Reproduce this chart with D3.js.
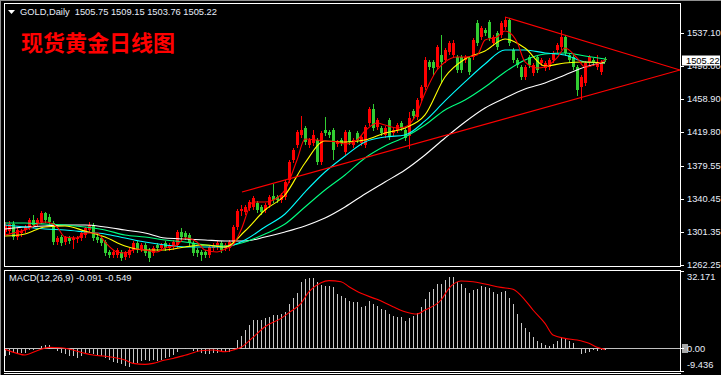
<!DOCTYPE html>
<html><head><meta charset="utf-8">
<script src="https://cdn.jsdelivr.net/npm/d3@7"></script>
<style>html,body{margin:0;padding:0;background:#000;overflow:hidden}</style>
</head><body><svg id="c" width="721" height="375"></svg>
<script>
// ---------- DATA ----------
const symbolTitle = "GOLD,Daily";
const lastBar = [1505.75, 1509.15, 1503.76, 1505.22];
const chartTitle = "现货黄金日线图";
const macdTitle = "MACD(12,26,9) -0.091 -0.549";

const openP = [1301.4,1302.5,1310.8,1295.4,1300.2,1303.7,1306.1,1315.6,1312.0,1313.2,
1323.9,1319.1,1312.0,1289.5,1295.4,1289.5,1294.2,1291.9,1293.1,1294.2,
1297.8,1303.7,1309.6,1295.4,1294.2,1289.5,1277.7,1274.1,1274.1,1277.7,
1271.7,1274.1,1280.0,1288.3,1281.2,1286.0,1280.0,1276.5,1286.0,1282.4,
1288.3,1282.4,1283.6,1286.0,1301.4,1300.2,1297.8,1288.3,1280.0,1277.7,
1277.7,1274.1,1282.4,1283.6,1288.3,1282.4,1282.4,1289.5,1307.3,1326.2,
1325.0,1329.8,1331.0,1335.7,1331.0,1327.4,1333.3,1344.0,1342.8,1339.3,
1342.8,1363.0,1386.7,1404.4,1416.3,1424.6,1404.4,1406.8,1410.3,1384.3,
1422.2,1419.8,1422.2,1405.6,1410.3,1396.1,1419.8,1404.4,1418.6,1406.8,
1404.4,1430.5,1447.1,1425.7,1424.6,1416.3,1434.0,1418.6,1422.2,1430.5,
1422.2,1415.1,1444.7,1437.6,1460.1,1473.1,1502.8,1502.8,1496.8,1511.0,
1505.1,1514.6,1511.0,1508.7,1508.7,1505.1,1507.5,1508.7,1549.0,1532.4,
1540.7,1550.1,1525.3,1537.1,1534.7,1544.2,1552.5,1517.0,1505.1,1496.8,
1485.0,1508.7,1489.7,1508.7,1501.6,1495.6,1496.8,1505.1,1517.0,1520.5,
1532.4,1511.0,1508.7,1496.8,1473.1,1477.9,1501.6,1505.1,1496.8,1490.9,
1505.75];
const highP = [1313.2,1314.4,1314.4,1306.1,1304.9,1309.6,1317.9,1321.5,1317.9,1326.2,
1325.0,1322.7,1314.4,1296.6,1297.8,1296.6,1296.6,1296.6,1296.6,1302.5,
1307.3,1313.2,1312.0,1297.8,1296.6,1291.9,1280.0,1280.0,1282.4,1280.0,
1278.8,1282.4,1290.7,1290.7,1288.3,1288.3,1282.4,1284.8,1288.3,1288.3,
1290.7,1288.3,1291.9,1303.7,1306.1,1302.5,1300.2,1290.7,1282.4,1280.0,
1280.0,1286.0,1288.3,1290.7,1290.7,1288.3,1291.9,1309.6,1328.6,1333.3,
1333.3,1339.3,1344.0,1338.1,1333.3,1335.7,1345.2,1358.2,1345.2,1347.6,
1363.0,1386.7,1400.9,1422.2,1438.8,1426.9,1412.7,1422.2,1412.7,1421.0,
1437.6,1422.2,1424.6,1410.3,1412.7,1422.2,1422.2,1412.7,1421.0,1416.3,
1428.1,1449.4,1453.0,1436.4,1426.9,1426.9,1436.4,1424.6,1430.5,1432.9,
1424.6,1443.5,1447.1,1460.1,1475.5,1508.7,1505.1,1505.1,1522.9,1534.7,
1519.3,1527.6,1528.8,1511.0,1511.0,1511.0,1509.9,1531.2,1552.5,1545.4,
1543.0,1552.5,1534.7,1539.5,1551.3,1556.1,1554.9,1519.3,1507.5,1499.2,
1499.2,1511.0,1501.6,1511.0,1507.5,1503.9,1507.5,1515.8,1525.3,1540.7,
1534.7,1513.4,1511.0,1499.2,1487.4,1503.9,1511.0,1507.5,1511.0,1505.1,
1509.15];
const lowP = [1299.0,1300.2,1293.1,1293.1,1296.6,1301.4,1304.9,1307.3,1309.6,1312.0,
1313.2,1310.8,1287.1,1287.1,1286.0,1287.1,1288.3,1282.4,1289.5,1291.9,
1295.4,1302.5,1291.9,1289.5,1286.0,1274.1,1271.7,1271.7,1271.7,1268.2,
1269.4,1271.7,1277.7,1277.7,1278.8,1274.1,1267.0,1274.1,1280.0,1280.0,
1280.0,1280.0,1281.2,1283.6,1293.1,1293.1,1286.0,1274.1,1272.9,1268.2,
1271.7,1271.7,1280.0,1281.2,1277.7,1280.0,1280.0,1287.1,1304.9,1321.5,
1322.7,1327.4,1328.6,1325.0,1322.7,1325.0,1331.0,1336.9,1336.9,1336.9,
1340.4,1360.6,1384.3,1402.1,1413.9,1405.6,1402.1,1404.4,1381.9,1381.9,
1416.3,1413.9,1387.8,1403.2,1404.4,1393.8,1405.6,1402.1,1408.0,1404.4,
1402.1,1428.1,1422.2,1423.4,1416.3,1413.9,1411.5,1416.3,1419.8,1422.2,
1410.3,1400.9,1436.4,1435.2,1457.7,1470.8,1494.5,1487.4,1494.5,1479.1,
1502.8,1512.2,1508.7,1490.9,1490.9,1502.8,1488.5,1506.3,1522.9,1530.0,
1534.7,1528.8,1522.9,1518.2,1532.4,1541.8,1522.9,1502.8,1496.8,1482.6,
1482.6,1496.8,1487.4,1490.9,1499.2,1493.3,1494.5,1502.8,1514.6,1518.2,
1511.0,1502.8,1494.5,1463.7,1458.9,1475.5,1499.2,1499.2,1494.5,1488.5,
1503.76];
const closeP = [1309.6,1310.8,1295.4,1303.7,1302.5,1307.3,1315.6,1309.6,1315.6,1323.9,
1315.6,1313.2,1289.5,1294.2,1288.3,1295.4,1290.7,1294.2,1294.2,1300.2,
1306.1,1309.6,1294.2,1291.9,1288.3,1276.5,1274.1,1277.7,1280.0,1270.6,
1277.7,1280.0,1288.3,1280.0,1286.0,1276.5,1270.6,1282.4,1282.4,1286.0,
1282.4,1286.0,1289.5,1301.4,1295.4,1295.4,1288.3,1276.5,1276.5,1274.1,
1274.1,1283.6,1286.0,1288.3,1280.0,1286.0,1289.5,1307.3,1326.2,1328.6,
1331.0,1336.9,1341.6,1327.4,1325.0,1333.3,1342.8,1339.3,1339.3,1345.2,
1360.6,1384.3,1398.5,1419.8,1422.2,1408.0,1410.3,1416.3,1384.3,1418.6,
1418.6,1416.3,1398.5,1408.0,1406.8,1419.8,1408.0,1410.3,1410.3,1413.9,
1425.7,1447.1,1424.6,1434.0,1418.6,1424.6,1413.9,1422.2,1428.1,1424.6,
1412.7,1436.4,1438.8,1457.7,1473.1,1505.1,1496.8,1495.6,1520.5,1502.8,
1517.0,1525.3,1525.3,1493.3,1493.3,1508.7,1490.9,1528.8,1525.3,1543.0,
1537.1,1531.2,1532.4,1520.5,1549.0,1552.5,1525.3,1505.1,1499.2,1485.0,
1496.8,1499.2,1499.2,1493.3,1505.1,1501.6,1505.1,1513.4,1522.9,1532.4,
1513.4,1505.1,1496.8,1469.6,1485.0,1501.6,1508.7,1501.6,1502.8,1502.8,
1505.22];

// moving averages read at every 5th bar
const maIndex = [0,5,10,15,20,25,30,35,40,45,50,55,60,65,70,75,80,85,90,95,100,105,110,115,120,125,130,135,140,145,150];
const maWhite = [1304.9,1307.3,1308.5,1309.6,1309.6,1307.3,1303.7,1300.2,1294.2,1293.1,1291.9,1290.7,1290.7,1295.4,1301.4,1308.5,1317.9,1331.0,1346.4,1360.6,1374.8,1392.6,1412.7,1431.7,1448.3,1460.1,1470.8,1477.9,1487.4,1496.8,1502.8];
const maGreen = [1312.0,1312.0,1310.8,1309.6,1307.3,1303.7,1297.8,1295.4,1291.9,1289.5,1286.0,1284.8,1289.5,1299.0,1310.8,1331.0,1351.1,1368.9,1389.0,1403.2,1413.9,1428.1,1445.9,1457.7,1473.1,1490.9,1505.1,1512.2,1513.4,1509.9,1506.3];
const maCyan = [1309.6,1307.3,1304.9,1303.7,1301.4,1299.0,1294.2,1289.5,1286.0,1283.6,1283.6,1283.6,1291.9,1307.3,1322.7,1348.7,1372.4,1391.4,1408.0,1413.9,1416.3,1432.9,1456.6,1479.1,1500.4,1517.0,1517.0,1513.4,1511.0,1502.8,1501.6];
const maYellow = [1296.6,1299.0,1307.3,1308.5,1302.5,1295.4,1284.8,1280.0,1280.0,1283.6,1286.0,1283.6,1302.5,1327.4,1345.2,1383.1,1409.2,1408.0,1410.3,1418.6,1424.6,1440.0,1485.0,1506.3,1515.8,1530.0,1519.3,1498.0,1501.6,1502.8,1501.6];
const maRedIndex = [0,5,10,13,15,18,20,23,25,28,30,33,35,38,40,43,45,48,50,53,55,57,59,62,65,68,70,73,75,78,80,83,85,88,90,93,95,98,100,103,105,108,110,113,115,118,120,123,125,128,130,133,135,138,140,143,145,148,150];
const maRed = [1297.8,1303.7,1313.2,1307.3,1295.4,1294.2,1300.2,1300.2,1289.5,1277.7,1276.5,1281.2,1280.0,1277.7,1282.4,1286.0,1294.2,1289.5,1280.0,1277.7,1281.2,1286.0,1303.7,1336.9,1336.9,1341.6,1351.1,1386.7,1411.5,1410.3,1409.2,1408.0,1405.6,1410.3,1421.0,1430.5,1428.1,1424.6,1425.7,1442.3,1466.0,1493.3,1502.8,1508.7,1508.7,1511.0,1528.8,1532.4,1539.5,1526.4,1502.8,1495.6,1496.8,1507.5,1519.3,1507.5,1496.8,1500.4,1505.1];

// triangle trend lines [barIndex, price]
const trendUpper = [[125,1556.1],[168.75,1493.3]];
const trendLower = [[59.25,1348.7],[168.75,1493.3]];

// MACD main (histogram) per bar
const macdMain = [-2.8,-2.4,-1.4,-1.8,-1.4,-1.4,-0.4,-0.3,0.2,1.4,
1.8,1.8,0.1,-0.7,-1.4,-2.1,-2.8,-2.8,-3.5,-2.8,
-1.8,-1.4,-1.8,-2.4,-2.8,-3.8,-4.6,-5.2,-5.6,-6.2,
-6.9,-7.4,-6.2,-5.6,-4.9,-4.6,-4.9,-4.6,-4.9,-4.6,
-3.8,-3.2,-2.4,-1.0,0.05,0.4,0.05,-0.7,-1.0,-1.4,
-2.1,-1.8,-1.4,-1.4,-0.7,-1.0,-1.0,0.4,3.7,5.5,
7.9,10.1,12.0,12.0,12.0,12.9,13.4,14.3,14.3,14.6,
15.6,18.7,21.2,23.6,28.1,29.1,29.5,29.5,28.1,26.8,
26.3,26.3,25.9,23.1,22.2,21.2,20.1,19.8,19.8,17.6,
18.0,20.1,19.0,18.0,16.6,16.2,14.5,13.9,13.4,13.4,
11.8,12.9,13.9,15.2,17.6,20.8,24.0,24.9,27.0,27.3,
28.7,30.1,30.1,28.1,27.3,25.6,23.6,24.5,25.3,26.3,
25.9,25.6,24.0,22.9,24.0,24.3,21.5,18.7,14.8,11.1,
9.0,7.3,5.1,3.5,2.8,1.8,1.4,2.1,3.5,5.1,
4.6,3.5,2.8,0.1,-1.8,-1.4,-1.0,-0.2,-0.7,-0.1,
-0.091];
const signalIndex = [0,3,5,8,11,14,17,20,22,26,30,32,35,37,40,42,45,49,52,55,57,59,62,65,69,71,74,76,79,81,84,86,89,93,97,100,103,105,109,111,114,117,120,124,127,130,132,135,137,140,143,146,148,150];
const signalVal = [-0.43,-2.09,-2.79,-1.0,0.40,0.26,-0.71,-2.09,-2.79,-3.48,-4.87,-6.26,-6.67,-6.26,-4.87,-4.2,-2.9,-0.99,-0.71,-1.40,-0.71,0.40,4.56,9.0,12.47,14.83,18.71,23.57,27.31,28.15,27.73,25.65,22.87,20.37,17.32,15.24,14.27,15.94,20.1,24.95,28.0,27.73,26.76,25.37,24.54,20.1,15.94,10.39,5.53,4.15,3.45,2.07,0.40,-0.549];

// axis ticks
const priceTicks = [1537.10,1498.00,1458.90,1419.80,1379.55,1340.45,1301.35,1262.25];
const macdTicks = [32.171,0,-9.436];
const macdTickLabels = ["32.171","0.00","-9.436"];

// ---------- DRAW ----------
const svg = d3.select('#c');
const FONT = "'Liberation Sans', Arial, sans-serif";
svg.append('rect').attr('width',721).attr('height',375).attr('fill','#000');

const x = d3.scaleLinear().domain([0,150]).range([5,605]);
const y = d3.scaleLinear().domain([1262.25,1537.10]).range([265,33]);
const ym = d3.scaleLinear().domain([-9.436,32.171]).range([371,271]);

const lp = lastBar[3];
const boxY = Math.round(y(lp)) - 4.5;

const defs = svg.append('defs');
defs.append('clipPath').attr('id','clipMain').append('rect').attr('x',5).attr('y',4).attr('width',675).attr('height',262);
defs.append('clipPath').attr('id','clipMacd').append('rect').attr('x',5).attr('y',271).attr('width',675).attr('height',100);
// area of the price scale not covered by the last-price box
defs.append('clipPath').attr('id','clipAxis').append('path')
  .attr('d', `M681,0 H721 V${boxY} H681 Z M681,${boxY+10} H721 V375 H681 Z`);

// frames
svg.append('line').attr('x1',0.5).attr('x2',0.5).attr('y1',0).attr('y2',375).attr('stroke','#909090');
svg.append('line').attr('x1',0).attr('x2',721).attr('y1',0.5).attr('y2',0.5).attr('stroke','#909090');
svg.append('rect').attr('x',4.5).attr('y',3.5).attr('width',676).attr('height',263).attr('fill','none').attr('stroke','#fff');
svg.append('rect').attr('x',4.5).attr('y',270.5).attr('width',676).attr('height',101).attr('fill','none').attr('stroke','#fff');
svg.append('line').attr('x1',4).attr('x2',681).attr('y1',373.5).attr('y2',373.5).attr('stroke','#fff');

// candles
const candles = closeP.map((c,i)=>({i,o:openP[i],h:highP[i],l:lowP[i],c}));
const gMain = svg.append('g').attr('clip-path','url(#clipMain)');
const gC = gMain.append('g').attr('shape-rendering','crispEdges');
const col = d => d.c >= d.o ? '#ff0000' : '#32cd32';
gC.selectAll('line.wick').data(candles).join('line').attr('class','wick')
  .attr('x1',d=>Math.round(x(d.i))+0.5).attr('x2',d=>Math.round(x(d.i))+0.5)
  .attr('y1',d=>Math.round(y(d.h))).attr('y2',d=>Math.round(y(d.l))+1)
  .attr('stroke',col).attr('stroke-width',1);
gC.selectAll('rect.body').data(candles).join('rect').attr('class','body')
  .attr('x',d=>Math.round(x(d.i))-1)
  .attr('y',d=>Math.round(y(Math.max(d.o,d.c))))
  .attr('width',3)
  .attr('height',d=>Math.max(1,Math.round(y(Math.min(d.o,d.c)))-Math.round(y(Math.max(d.o,d.c)))))
  .attr('fill',col);

// moving averages
const maLine = d3.line().x(d=>x(d[0])).y(d=>y(d[1])).curve(d3.curveMonotoneX);
const maSets = [
  [maIndex, maWhite, '#ffffff'],
  [maIndex, maGreen, '#00ff80'],
  [maIndex, maCyan, '#00ffff'],
  [maIndex, maYellow, '#ffff00'],
  [maRedIndex, maRed, '#ff0000']
];
maSets.forEach(([idx, vals, c])=>{
  gMain.append('path').datum(idx.map((k,j)=>[k, vals[j]]))
    .attr('d', maLine).attr('fill','none').attr('stroke',c).attr('stroke-width',1.1);
});

// trend lines
const tl = d3.line().x(d=>x(d[0])).y(d=>y(d[1]));
[trendUpper, trendLower].forEach(t=>{
  gMain.append('path').datum(t).attr('d',tl).attr('fill','none').attr('stroke','#ff0000').attr('stroke-width',1.1);
});

// header
svg.append('path').attr('d','M8,10 L15,10 L11.5,14 Z').attr('fill','#fff');
svg.append('text').attr('x',20).attr('y',12).attr('dominant-baseline','central')
  .attr('font-family',FONT).attr('font-size',9.3).attr('fill','#e8eefa')
  .attr('xml:space','preserve')
  .text(symbolTitle + '  ' + lastBar.map(v=>v.toFixed(2)).join(' '));
svg.append('text').attr('x',21).attr('y',41).attr('dominant-baseline','central')
  .attr('font-family',"'Noto Sans CJK SC', sans-serif").attr('font-weight','bold')
  .attr('font-size',22).attr('fill','#ff0000').text(chartTitle);

// price axis (the part hidden under the last-price box is clipped away)
const yAxis = d3.axisRight(y).tickValues(priceTicks).tickFormat(d3.format('.2f')).tickSize(3).tickPadding(3);
const gy = svg.append('g').attr('clip-path','url(#clipAxis)')
  .append('g').attr('transform','translate(681,0)').call(yAxis);
gy.select('.domain').remove();
gy.selectAll('line').attr('stroke','#fff').attr('shape-rendering','crispEdges');
gy.selectAll('text').attr('font-family',FONT).attr('font-size',9.3).attr('fill','#e8eefa');

// last price label
svg.append('rect').attr('x',682).attr('y',boxY).attr('width',38).attr('height',10).attr('fill','#fff');
svg.append('text').attr('x',686).attr('y',y(lp)+0.6).attr('dominant-baseline','central')
  .attr('font-family',FONT).attr('font-size',9.3).attr('fill','#000').text(lp.toFixed(2));

// MACD
const gM = svg.append('g').attr('clip-path','url(#clipMacd)');
gM.append('line').attr('x1',5).attr('x2',680).attr('y1',Math.round(ym(0))+0.5).attr('y2',Math.round(ym(0))+0.5)
  .attr('stroke','#c0c0c0').attr('shape-rendering','crispEdges');
gM.append('g').attr('shape-rendering','crispEdges').selectAll('line').data(macdMain).join('line')
  .attr('x1',(d,i)=>Math.round(x(i))+0.5).attr('x2',(d,i)=>Math.round(x(i))+0.5)
  .attr('y1',Math.round(ym(0))+0.5).attr('y2',d=>Math.round(ym(d))+0.5)
  .attr('stroke','#c8c8c8').attr('stroke-width',1);
gM.append('path').datum(signalIndex.map((k,j)=>[k,signalVal[j]]))
  .attr('d', d3.line().x(d=>x(d[0])).y(d=>ym(d[1])).curve(d3.curveMonotoneX))
  .attr('fill','none').attr('stroke','#ff0000').attr('stroke-width',1.1);
svg.append('text').attr('x',9).attr('y',278).attr('dominant-baseline','central')
  .attr('font-family',FONT).attr('font-size',9.3).attr('fill','#e8eefa').text(macdTitle);

// MACD axis
const mAxis = d3.axisRight(ym).tickValues(macdTicks).tickFormat((d,i)=>macdTickLabels[i]).tickSize(3).tickPadding(3);
svg.append('rect').attr('x',682).attr('y',Math.round(ym(0))-4).attr('width',6).attr('height',9).attr('fill','#a8a8a8');
const gm = svg.append('g').attr('transform','translate(681,0)').call(mAxis);
gm.select('.domain').remove();
gm.selectAll('line').attr('stroke','#fff').attr('shape-rendering','crispEdges');
gm.selectAll('text').attr('font-family',FONT).attr('font-size',9.3).attr('fill','#e8eefa')
  .attr('dy',(d,i)=> i===0 ? '0.95em' : (i===2 ? '-0.35em' : '0.32em'));
</script>
</body></html>
